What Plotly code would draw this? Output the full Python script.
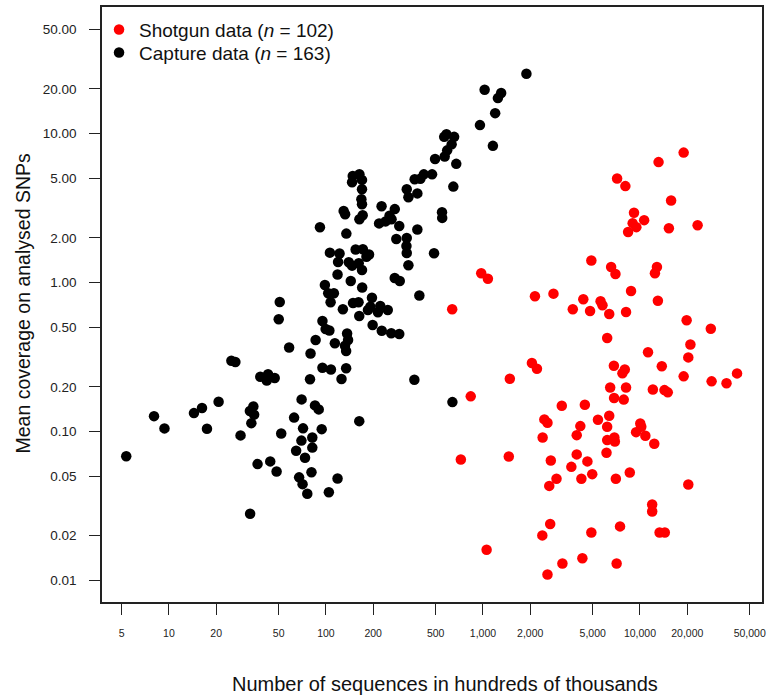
import plotly.graph_objects as go

# Shotgun data (red)
shotgun_x = [7150, 8070, 9160, 8980, 8400, 9480, 10630, 18970, 13130, 15780, 15280, 23280,
             4900, 6550, 6980, 12820, 12450, 975, 1075, 8770, 13000, 2143, 2812, 4355, 5610,
             5770, 3733, 4810, 6370, 8150, 637, 6180, 19820, 28250, 20940, 20310, 11250, 2050,
             2207, 6820, 13770, 8000, 7730, 18970, 41500, 28580, 35560, 6460, 8150, 12080,
             14320, 15030, 6840, 7880, 1483, 836, 3177, 4455, 2460, 2576, 5400, 6370, 4170,
             6180, 10040, 10190, 9440, 10820, 12330, 3955, 2399, 6180, 6870, 6920, 6120, 723,
             1461, 2705, 3955, 4625, 3655, 2940, 2644, 4235, 4964, 7020, 8610, 20310, 11960,
             11960, 2680, 2388, 4900, 7465, 13330, 14390, 1055, 3207, 4297, 7100, 2576]
shotgun_y = [5.0, 4.45, 2.95, 2.51, 2.19, 2.36, 2.63, 7.47, 6.45, 3.56, 2.32, 2.43,
             1.41, 1.275, 1.144, 1.275, 1.157, 1.157, 1.064, 0.880, 0.757, 0.810, 0.844, 0.773, 0.750,
             0.705, 0.663, 0.645, 0.616, 0.636, 0.663, 0.425, 0.559, 0.491, 0.385, 0.315, 0.341, 0.289,
             0.264, 0.277, 0.275, 0.261, 0.2465, 0.235, 0.246, 0.2175, 0.211, 0.198, 0.1976, 0.192,
             0.190, 0.1835, 0.168, 0.164, 0.2264, 0.1725, 0.149, 0.1514, 0.1208, 0.1146, 0.120, 0.1277, 0.1089,
             0.1077, 0.1135, 0.1077, 0.0992, 0.0937, 0.0828, 0.0947, 0.0914, 0.0877, 0.0912, 0.0859, 0.0721, 0.0650,
             0.0681, 0.0640, 0.0703, 0.0631, 0.058, 0.0482, 0.0432, 0.0482, 0.0518, 0.0482, 0.0532, 0.0442, 0.0324,
             0.0291, 0.0240, 0.0201, 0.0210, 0.0231, 0.0210, 0.0210, 0.0161, 0.0130, 0.0141, 0.0130, 0.01097]

# Capture data (black)
capture_x = [5.35, 8.04, 9.37, 14.44, 16.25, 17.48, 20.73, 25.0, 26.5, 28.6, 32.8, 34.5, 34.9, 33.5,
             32.9, 38.2, 42.8, 42.0, 47.2, 36.7, 44.2, 48.5, 51.9, 58.3, 62.7, 64.6, 50.8, 50.05,
             70.0, 71.5, 69.8, 73.6, 67.5, 71.0, 76.1, 80.9, 81.9, 81.9, 94.0, 85.2, 90.0, 79.8,
             86.0, 95.0, 107.6, 79.2, 95.0, 99.6, 105.2, 114.0, 104.4, 118.6, 125.7, 134.5, 136.4,
             138.4, 132.3, 134.5, 163, 365.8, 639,
             98.5, 143.9, 170.2, 103.4, 112.4, 107.1, 128.2, 148.8, 161.3, 196.4, 185.2, 191.8,
             214.3, 221.9, 247.6, 163, 198.4, 226.8, 260.5, 293.1, 393.6, 274.2, 295.3, 118.6,
             91.6, 129.7, 132.5, 134.9, 106.0, 122.1, 119.5, 154.6, 171.9, 188.2, 181.2, 139.8,
             146.7, 161.8, 169.7, 163.4, 171.5, 168.2, 169.7, 226.1, 274.5, 254.1, 261.7, 218.1,
             239.8, 293.1, 382.2, 280.6, 327.1, 325.6, 327.1, 488.1, 335.2, 548.6, 550.2, 327.1,
             335.2, 382.2, 367.4, 399.3, 420.2, 474.2, 495.4, 647.6, 676.1,
             148.2, 163.4, 169.7, 146.7, 169.7,
             585.8, 566.5, 655.3, 631.9, 591.8, 570.6, 957, 1025, 1306, 1245, 1196, 1157, 1891]
capture_y = [0.0684, 0.127, 0.1051, 0.1331, 0.1439, 0.1044, 0.1585, 0.299, 0.293, 0.0943, 0.1374, 0.1477, 0.130, 0.114,
             0.0281, 0.2336, 0.2427, 0.2203, 0.229, 0.0605, 0.0631, 0.054, 0.0972, 0.3668, 0.1242, 0.0743, 0.742, 0.5675,
             0.1646, 0.1052, 0.0870, 0.0667, 0.0493, 0.0444, 0.0383, 0.0534, 0.0781, 0.0914, 0.1039, 0.150, 0.141, 0.3344,
             0.412, 0.2685, 0.261, 0.2246, 0.5528, 0.4886, 0.4773, 0.392, 0.0392, 0.0485, 0.2254, 0.2663, 0.4557,
             0.412, 0.3773, 0.3475, 0.1176, 0.223, 0.1578,
             0.965, 1.027, 0.929, 0.849, 0.849, 0.738, 0.6626, 0.7305, 0.7393, 0.793, 0.6555, 0.690,
             0.6325, 0.697, 0.6555, 0.5974, 0.5195, 0.476, 0.457, 0.452, 0.820, 1.0755, 1.027, 1.135,
             2.357, 3.033, 2.883, 2.135, 1.591, 1.571, 1.378, 1.669, 1.677, 1.547, 1.493, 1.371,
             1.301, 1.350, 1.217, 2.667, 2.838, 3.635, 3.365, 3.262, 3.119, 2.818, 2.667, 2.50,
             2.579, 2.405, 2.278, 1.966, 1.997, 1.765, 1.583, 1.576, 1.309, 2.972, 2.722, 4.243,
             3.749, 3.977, 4.954, 4.991, 5.336, 5.336, 6.761, 4.417, 6.278,
             5.213, 5.352, 4.899, 4.73, 4.243,
             9.91, 9.53, 9.53, 8.489, 7.733, 7.029, 11.43, 19.72, 18.75, 17.35, 13.75, 8.293, 25.27]

x_tickvals = [5, 10, 20, 50, 100, 200, 500, 1000, 2000, 5000, 10000, 20000, 50000]
x_ticktext = ["5", "10", "20", "50", "100", "200", "500", "1,000", "2,000", "5,000",
              "10,000", "20,000", "50,000"]
y_tickvals = [50, 20, 10, 5, 2, 1, 0.5, 0.2, 0.1, 0.05, 0.02, 0.01]
y_ticktext = ["50.00", "20.00", "10.00", "5.00", "2.00", "1.00", "0.50", "0.20", "0.10",
              "0.05", "0.02", "0.01"]

FONT = "Liberation Sans, Arial, Helvetica, sans-serif"

fig = go.Figure()
fig.add_trace(go.Scatter(
    x=shotgun_x, y=shotgun_y, mode="markers",
    marker=dict(color="#FF0000", size=10.5, line=dict(width=0)),
    name="Shotgun data (<i>n</i> = 102)", legend="legend"))
fig.add_trace(go.Scatter(
    x=capture_x, y=capture_y, mode="markers",
    marker=dict(color="#000000", size=10.5, line=dict(width=0)),
    name="Capture data (<i>n</i> = 163)", legend="legend2"))

leg_common = dict(xanchor="left", yanchor="top", bgcolor="rgba(0,0,0,0)",
                  font=dict(size=19, family=FONT, color="#111"), itemsizing="trace")

fig.update_layout(
    width=771, height=698,
    margin=dict(l=102, r=5, t=7, b=96),
    paper_bgcolor="white", plot_bgcolor="white",
    font=dict(family=FONT, color="#111"),
    showlegend=True,
    legend=dict(x=-0.0045, y=0.9939, **leg_common),
    legend2=dict(x=-0.0045, y=0.9552, **leg_common),
    xaxis=dict(type="log", range=[0.574, 4.777],
               tickvals=x_tickvals, ticktext=x_ticktext,
               ticks="outside", ticklen=11, tickwidth=1.3, tickcolor="#222",
               showline=True, linecolor="#222", linewidth=1.5, mirror=True,
               showgrid=False, zeroline=False,
               tickfont=dict(size=10.5, family=FONT, color="#222"),
               ticklabelstandoff=10),
    yaxis=dict(type="log", range=[-2.144, 1.851],
               tickvals=y_tickvals, ticktext=y_ticktext,
               ticks="outside", ticklen=11, tickwidth=1.3, tickcolor="#222",
               showline=True, linecolor="#222", linewidth=1.5, mirror=True,
               showgrid=False, zeroline=False,
               tickfont=dict(size=13.5, family=FONT, color="#222"),
               ticklabelstandoff=10),
    annotations=[
        dict(text="Number of sequences in hundreds of thousands", xref="paper", yref="paper",
             x=0.52, y=-0.1378, xanchor="center", yanchor="middle", showarrow=False,
             font=dict(size=20, family=FONT, color="#111")),
        dict(text="Mean coverage on analysed SNPs", xref="paper", yref="paper",
             x=-0.12, y=0.503, xanchor="center", yanchor="middle", showarrow=False,
             textangle=-90, font=dict(size=19.5, family=FONT, color="#111")),
    ],
)

fig.write_html("out.html", config={"displayModeBar": False},
               post_script="document.body.style.margin='0';document.body.style.overflow='hidden';")
